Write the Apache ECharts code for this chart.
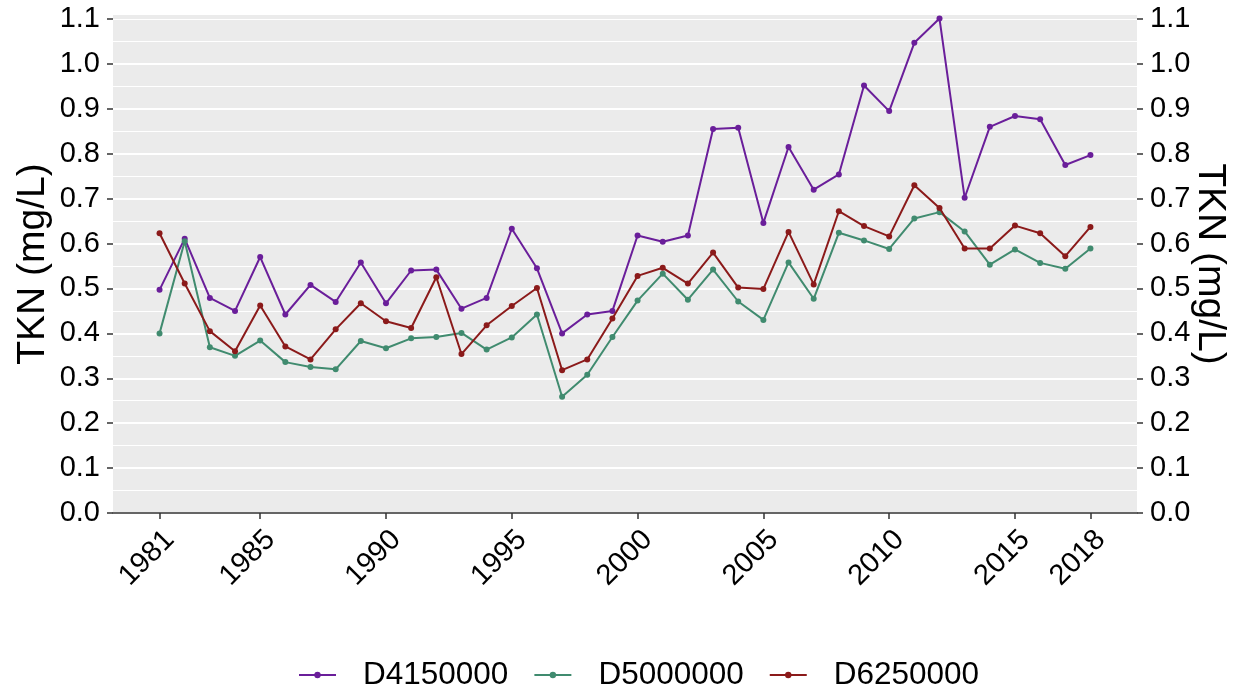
<!DOCTYPE html>
<html>
<head>
<meta charset="utf-8">
<script src="https://cdn.jsdelivr.net/npm/echarts@6/dist/echarts.min.js"></script>
<style>
  html, body { margin: 0; padding: 0; background: #ffffff; }
  #chart { width: 1238px; height: 692px; }
</style>
</head>
<body>
<div id="chart"></div>
<script>
const years = [1981, 1982, 1983, 1984, 1985, 1986, 1987, 1988, 1989, 1990,
               1991, 1992, 1993, 1994, 1995, 1996, 1997, 1998, 1999, 2000,
               2001, 2002, 2003, 2004, 2005, 2006, 2007, 2008, 2009, 2010,
               2011, 2012, 2013, 2014, 2015, 2016, 2017, 2018];

const D4150000 = [0.497, 0.611, 0.479, 0.450, 0.570, 0.442, 0.508, 0.470, 0.558, 0.467,
                  0.540, 0.542, 0.455, 0.479, 0.633, 0.545, 0.400, 0.442, 0.450, 0.618,
                  0.604, 0.618, 0.855, 0.858, 0.646, 0.815, 0.720, 0.754, 0.952, 0.895,
                  1.047, 1.101, 0.702, 0.860, 0.884, 0.877, 0.775, 0.797];

const D5000000 = [0.400, 0.605, 0.369, 0.350, 0.384, 0.336, 0.325, 0.320, 0.383, 0.367,
                  0.389, 0.392, 0.401, 0.364, 0.391, 0.442, 0.259, 0.308, 0.392, 0.473,
                  0.533, 0.475, 0.542, 0.471, 0.430, 0.558, 0.477, 0.624, 0.607, 0.588,
                  0.656, 0.670, 0.627, 0.553, 0.587, 0.557, 0.544, 0.589];

const D6250000 = [0.623, 0.511, 0.405, 0.360, 0.462, 0.371, 0.342, 0.409, 0.467, 0.427,
                  0.412, 0.525, 0.354, 0.418, 0.461, 0.501, 0.318, 0.342, 0.433, 0.528,
                  0.546, 0.511, 0.580, 0.502, 0.499, 0.626, 0.509, 0.672, 0.639, 0.616,
                  0.730, 0.679, 0.589, 0.589, 0.640, 0.623, 0.572, 0.637];

const seriesNames = ['D4150000', 'D5000000', 'D6250000'];
const seriesValues = [D4150000, D5000000, D6250000];
const seriesColors = ['#6A1E9A', '#408B6F', '#8B1A1A'];

const xTicks = [1981, 1985, 1990, 1995, 2000, 2005, 2010, 2015, 2018];
const yTicks = [0, 0.1, 0.2, 0.3, 0.4, 0.5, 0.6, 0.7, 0.8, 0.9, 1.0, 1.1];
const yTitle = 'TKN (mg/L)';

const FONT = '"Liberation Sans", Arial, Helvetica, sans-serif';
const TICK_FS = 29;

function yAxisCfg(pos, withName, rot, gap) {
  return {
    type: 'value',
    position: pos,
    min: 0,
    max: 1.109,
    interval: 0.1,
    name: withName ? yTitle : '',
    nameLocation: 'middle',
    nameRotate: rot,
    nameGap: gap,
    nameMoveOverlap: false,
    nameTextStyle: { fontFamily: FONT, fontSize: 39, color: '#000000' },
    axisLine: { show: false },
    axisTick: { show: true, length: 6, customValues: yTicks, lineStyle: { color: '#333333', width: 1.5 } },
    axisLabel: {
      show: true, customValues: yTicks, margin: 13,
      fontFamily: FONT, fontSize: TICK_FS, color: '#000000',
      formatter: v => v.toFixed(1)
    },
    splitLine: { show: pos === 'left', showMaxLine: false, lineStyle: { color: '#FFFFFF', width: 2 } },
    minorTick: { show: false },
    minorSplitLine: { show: false }
  };
}

const chart = echarts.init(document.getElementById('chart'), null, { renderer: 'canvas' });

chart.setOption({
  backgroundColor: '#FFFFFF',
  animation: false,
  grid: {
    left: 113, right: 101, top: 15, bottom: 179,
    outerBoundsMode: 'none',
    containLabel: false,
    show: true, backgroundColor: '#EBEBEB', borderWidth: 0
  },
  legend: {
    data: seriesNames,
    left: 298,
    top: 659,
    padding: 0,
    itemWidth: 37,
    itemHeight: 8,
    itemGap: 25,
    textStyle: { fontFamily: FONT, fontSize: 31.5, color: '#000000', padding: [0, 0, 0, 22] }
  },
  xAxis: {
    type: 'value',
    min: 1979.15,
    max: 2019.85,
    axisLine: { show: true, lineStyle: { color: '#333333', width: 1.6 } },
    axisTick: { show: true, length: 6, customValues: xTicks, lineStyle: { color: '#333333', width: 1.5 } },
    axisLabel: {
      show: true, customValues: xTicks, rotate: 45, margin: 12,
      verticalAlign: 'top',
      fontFamily: FONT, fontSize: TICK_FS, color: '#000000',
      formatter: v => String(v)
    },
    splitLine: { show: false }
  },
  yAxis: [
    yAxisCfg('left', true, 90, 60),
    yAxisCfg('right', true, -90, 53),
    {
      type: 'value', position: 'left', min: 0, max: 1.109, interval: 0.05,
      axisLine: { show: false }, axisTick: { show: false }, axisLabel: { show: false },
      splitLine: { show: true, showMaxLine: false, showMinLine: false, lineStyle: { color: '#FFFFFF', width: 1 } }
    }
  ],
  series: seriesNames.map((name, i) => ({
    name: name,
    type: 'line',
    xAxisIndex: 0,
    yAxisIndex: 0,
    data: years.map((yr, j) => [yr, seriesValues[i][j]]),
    symbol: 'circle',
    symbolSize: 6,
    showSymbol: true,
    lineStyle: { color: seriesColors[i], width: 2 },
    itemStyle: { color: seriesColors[i] },
    emphasis: { disabled: true },
    z: 2 + i
  }))
});
</script>
</body>
</html>
